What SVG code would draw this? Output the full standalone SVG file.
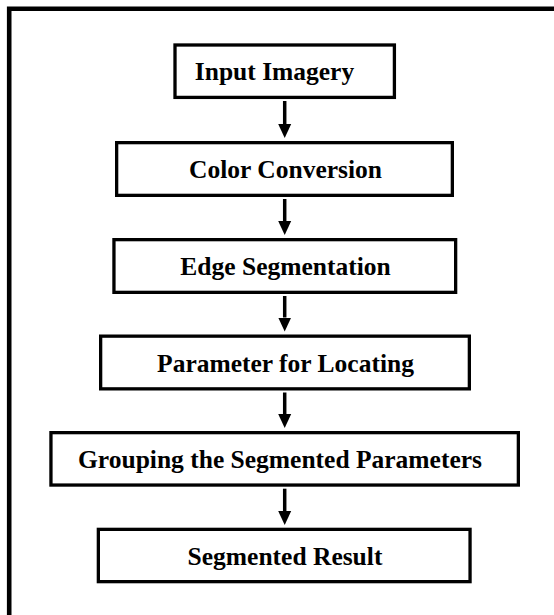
<svg xmlns="http://www.w3.org/2000/svg" width="554" height="615" viewBox="0 0 554 615">
<style>
.box{fill:#fff;stroke:#000;stroke-width:3.3}
.lbl{font-family:"Liberation Serif","Times New Roman",serif;font-weight:bold;font-size:25.5px;fill:#000;text-anchor:middle}
.conn{stroke:#000;stroke-width:3.5;fill:none;marker-end:url(#ah)}
</style>
<defs>
<marker id="ah" markerUnits="userSpaceOnUse" markerWidth="14" markerHeight="14" refX="0" refY="6.5" orient="auto" viewBox="0 0 14 13">
<path d="M0,0 L14,6.5 L0,13 z" fill="#000"/>
</marker>
</defs>
<rect width="554" height="615" fill="#fff"/>
<path d="M9.2,615 V8.8 H554" fill="none" stroke="#000" stroke-width="4.6"/>
<g id="connectors">
<line class="conn" x1="284.7" y1="101" x2="284.7" y2="124"/>
<line class="conn" x1="284.7" y1="199" x2="284.7" y2="221"/>
<line class="conn" x1="284.7" y1="296" x2="284.7" y2="317.5"/>
<line class="conn" x1="284.7" y1="392.5" x2="284.7" y2="414"/>
<line class="conn" x1="284.7" y1="488.7" x2="284.7" y2="511"/>
</g>
<g id="n1"><rect class="box" x="175" y="45" width="219.4" height="52.4"/><text class="lbl" x="274.5" y="79.5">Input Imagery</text></g>
<g id="n2"><rect class="box" x="116.65" y="142.65" width="335.7" height="52.7"/><text class="lbl" x="285.5" y="178">Color Conversion</text></g>
<g id="n3"><rect class="box" x="113.95" y="239.65" width="341.7" height="52.7"/><text class="lbl" x="285.5" y="275">Edge Segmentation</text></g>
<g id="n4"><rect class="box" x="100.65" y="336.15" width="368.7" height="52.7"/><text class="lbl" x="285.5" y="371.5">Parameter for Locating</text></g>
<g id="n5"><rect class="box" x="50.95" y="432.65" width="467.4" height="52.4"/><text class="lbl" x="280" y="468">Grouping the Segmented Parameters</text></g>
<g id="n6"><rect class="box" x="98.35" y="529.35" width="371.7" height="52.3"/><text class="lbl" x="285" y="564.5">Segmented Result</text></g>
</svg>
